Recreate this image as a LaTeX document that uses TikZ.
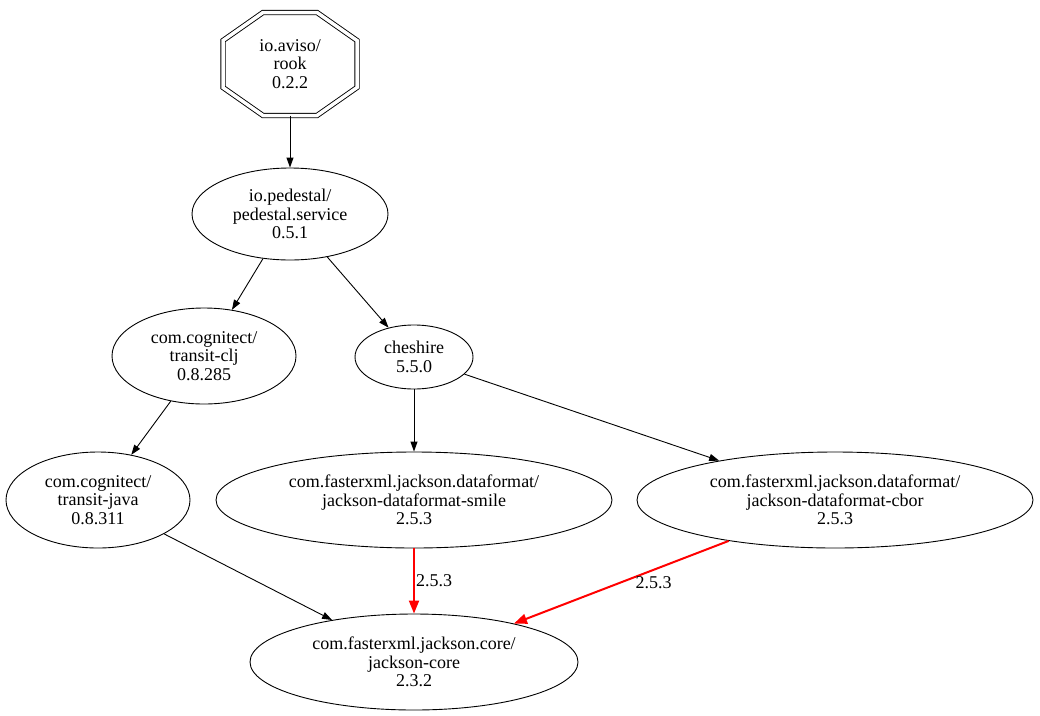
\documentclass[tikz,border=0pt]{standalone}
\usepackage{fontspec}
\setmainfont{Liberation Serif}
\usetikzlibrary{shapes,arrows.meta,positioning}

\begin{document}
\begin{tikzpicture}[x=1pt, y=-1pt]
  \tikzstyle{pkg}=[ellipse, draw, line width=0.9pt, inner sep=0pt, font=\fontsize{18}{18.5}\selectfont, align=center]
  \tikzstyle{rootpkg}=[rectangle, minimum width=135pt, minimum height=103pt, inner sep=0pt, font=\fontsize{18}{18.5}\selectfont, align=center]
  \tikzstyle{rootline}=[double, double distance=3.5pt, line width=0.9pt, line join=miter]
  \tikzstyle{dep}=[line width=0.9pt, -{Triangle[length=10pt,width=7pt]}]
  \tikzstyle{conflict}=[red, line width=2pt, -{Triangle[length=13pt,width=10pt]}]
  \tikzstyle{ver}=[font=\fontsize{18}{18.5}\selectfont, text=black]

  \useasboundingbox (0,0) rectangle (1040,715);

  % Paquetes
  \node[rootpkg] (rook) at (290,64) {io.aviso/\\rook\\0.2.2};
  \draw[rootline, shift={(rook.center)}] (-27,-51.5) -- (27,-51.5) -- (67,-23.5) -- (67,23.5) -- (27,51.5) -- (-27,51.5) -- (-67,23.5) -- (-67,-23.5) -- cycle;
  \node[pkg, minimum width=196pt, minimum height=92pt] (service) at (290,214) {io.pedestal/\\pedestal.service\\0.5.1};
  \node[pkg, minimum width=184pt, minimum height=96pt] (clj) at (204,356) {com.cognitect/\\transit-clj\\0.8.285};
  \node[pkg, minimum width=118pt, minimum height=64pt] (cheshire) at (414,357) {cheshire\\5.5.0};
  \node[pkg, minimum width=184pt, minimum height=96pt] (java) at (98,500) {com.cognitect/\\transit-java\\0.8.311};
  \node[pkg, minimum width=396pt, minimum height=96pt] (smile) at (414,500) {com.fasterxml.jackson.dataformat/\\jackson-dataformat-smile\\2.5.3};
  \node[pkg, minimum width=396pt, minimum height=96pt] (cbor) at (835,500) {com.fasterxml.jackson.dataformat/\\jackson-dataformat-cbor\\2.5.3};
  \node[pkg, minimum width=328pt, minimum height=96pt] (core) at (414,662) {com.fasterxml.jackson.core/\\jackson-core\\2.3.2};

  % Dependencias
  \draw[dep] (rook) -- (service);
  \draw[dep] (service) -- (clj);
  \draw[dep] (service) -- (cheshire);
  \draw[dep] (clj) -- (java);
  \draw[dep] (cheshire) -- (smile);
  \draw[dep] (cheshire) -- (cbor);
  \draw[dep] (java) -- (core);

  % Conflictos de version
  \draw[conflict] (smile) -- node[ver, right, inner sep=1pt] {2.5.3} (core);
  \draw[conflict] (cbor) -- node[ver, right, xshift=10pt] {2.5.3} (core);
\end{tikzpicture}
\end{document}
